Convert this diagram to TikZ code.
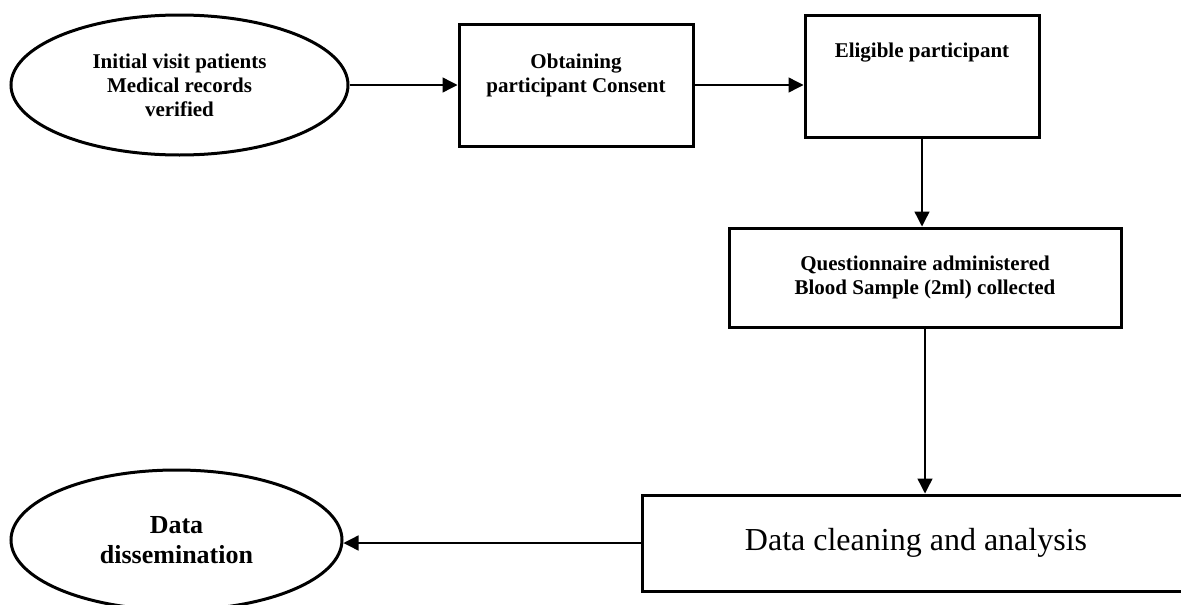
\documentclass[tikz,border=0pt]{standalone}
\usepackage{fontspec}
\setmainfont{Liberation Serif}
\usetikzlibrary{arrows.meta,shapes.geometric}

\begin{document}
\begin{tikzpicture}[x=1pt, y=-1pt,
    boxtext/.style={
        align=center,
        font=\fontsize{21}{24}\selectfont\bfseries
    },
    oval/.style={
        draw,
        ellipse,
        line width=3pt,
        inner sep=0pt,
        boxtext
    },
    flowbox/.style={
        draw,
        rectangle,
        line width=3pt,
        inner sep=0pt,
        boxtext
    },
    arr/.style={
        -{Triangle[length=15pt,width=15pt]},
        line width=1.4pt
    }
]

\useasboundingbox (0,0) rectangle (1181,605);

%%%%%%%%%%%%%%%%%%%%%%%%
% Top row
%%%%%%%%%%%%%%%%%%%%%%%%

\node[oval, minimum width=337pt, minimum height=140pt] (visit) at (179.5,85)
    {Initial visit patients\\Medical records\\verified};

\node[flowbox, minimum width=234pt, minimum height=122pt,
      label={[boxtext, yshift=10pt]center:Obtaining\\participant Consent}]
    (consent) at (576,85) {};

\node[flowbox, minimum width=234pt, minimum height=122pt,
      label={[boxtext, yshift=23pt]center:Eligible participant}]
    (elig) at (922,76) {};

%%%%%%%%%%%%%%%%%%%%%%%%
% Middle and bottom
%%%%%%%%%%%%%%%%%%%%%%%%

\node[flowbox, minimum width=392pt, minimum height=99pt] (quest) at (925,277.5)
    {Questionnaire administered\\Blood Sample (2ml) collected};

\node[flowbox, minimum width=548pt, minimum height=96pt,
      font=\fontsize{32}{36}\selectfont] (clean) at (916,543)
    {Data cleaning and analysis};

\node[oval, minimum width=331pt, minimum height=140pt,
      font=\fontsize{26}{30}\selectfont\bfseries] (dissem) at (176.5,540)
    {Data\\dissemination};

% --- Arrows ---
\draw[arr] (visit) -- (consent);
\draw[arr] (consent.east) -- (consent.east -| elig.west);
\draw[arr] (elig.south) -- (elig.south |- quest.north);
\draw[arr] (quest.south) -- (quest.south |- clean.north);
\draw[arr] (clean.west) -- (clean.west -| dissem.east);

\end{tikzpicture}
\end{document}
